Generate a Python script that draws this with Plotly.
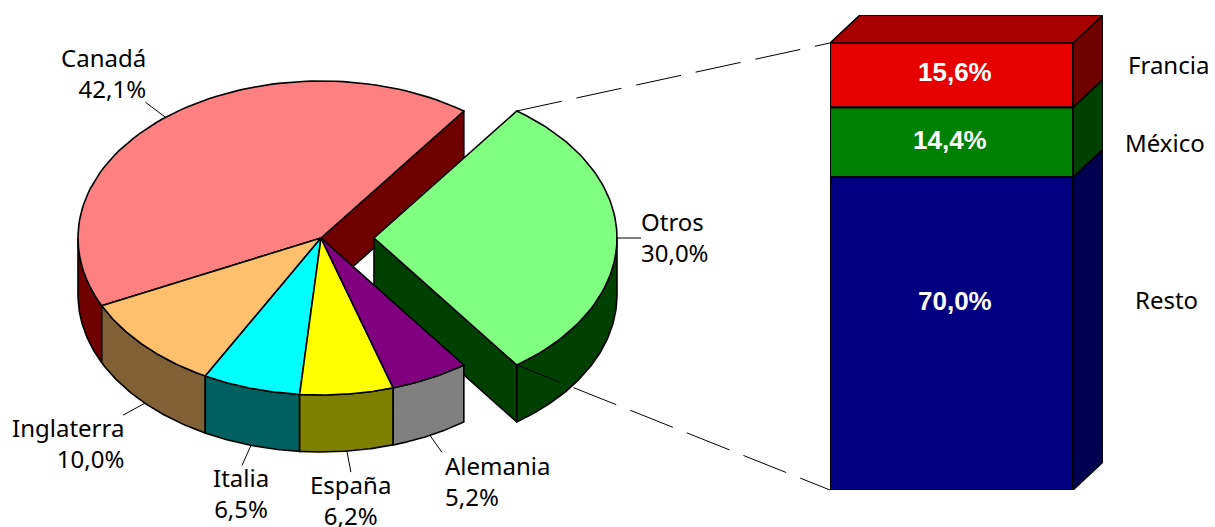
import numpy as np
import plotly.graph_objects as go

# ---- data ----
pie_names = ["Canadá", "Inglaterra", "Italia", "España", "Alemania", "Otros"]
pie_values = [42.1, 10.0, 6.5, 6.2, 5.2, 30.0]
pie_labels = ["42,1%", "10,0%", "6,5%", "6,2%", "5,2%", "30,0%"]

bar_names = ["Resto", "México", "Francia"]
bar_heights = [70.0, 15.6, 14.4]   # drawn heights
bar_labels = ["70,0%", "14,4%", "15,6%"]

# ---- styles ----
top_colors = ["#FF8080", "#FFC06E", "#00FFFF", "#FFFF00", "#800080", "#80FF80"]
side_colors = ["#700000", "#806035", "#006060", "#808000", "#808080", "#004000"]
bar_front = ["#000080", "#008000", "#E60000"]
bar_side = ["#000050", "#004000", "#700000"]
bar_top = "#A80000"
W, H = 1215, 527
LABEL_FONT = dict(family="Noto Sans", size=24, color="#000000")

# ---- projection of the tilted pie ----
CX, CY, RX, RY, DEPTH = 321, 238, 243, 157, 57
EXPLODE = [0, 0, 0, 0, 0, 53]
START = 54.0
edges = START + np.concatenate([[0], np.cumsum(pie_values)]) * 3.6


def arc(a0, a1, cx):
    t = np.radians(np.linspace(a0, a1, 80))
    return cx + RX * np.cos(t), CY - RY * np.sin(t)


def poly(x, y, color, lw=1.6, xa="x", ya="y"):
    return go.Scatter(x=np.r_[x, x[0]], y=np.r_[y, y[0]], mode="lines", fill="toself",
                      fillcolor=color, line=dict(color="#000000", width=lw),
                      hoverinfo="skip", showlegend=False, xaxis=xa, yaxis=ya)


def top_face(i):
    cx = CX + EXPLODE[i]
    ax, ay = arc(edges[i], edges[i + 1], cx)
    return poly(np.r_[cx, ax], np.r_[CY, ay], top_colors[i])


def outer_wall(i):
    cx = CX + EXPLODE[i]
    a0, a1 = max(edges[i], 180), min(edges[i + 1], 360)
    if a1 <= a0:
        return None
    ax, ay = arc(a0, a1, cx)
    return poly(np.r_[ax, ax[::-1]], np.r_[ay, ay[::-1] + DEPTH], side_colors[i])


def cut_wall(i, angle):
    cx = CX + EXPLODE[i]
    ex = cx + RX * np.cos(np.radians(angle))
    ey = CY - RY * np.sin(np.radians(angle))
    return poly(np.array([cx, ex, ex, cx]), np.array([CY, ey, ey + DEPTH, CY + DEPTH]), side_colors[i])


fig = go.Figure()
# back to front
fig.add_trace(cut_wall(0, edges[0]))
fig.add_trace(cut_wall(5, edges[5]))
fig.add_trace(outer_wall(5))
fig.add_trace(top_face(5))
for i in range(5):
    w = outer_wall(i)
    if w is not None:
        fig.add_trace(w)
for i in range(5):
    fig.add_trace(top_face(i))

# ---- leader lines from mid angle of each slice ----
leader_offset = [(-20, -15), (-22, 12), (-9, 20), (4, 21), (12, 17), (24, 0)]
mids = (edges[:-1] + edges[1:]) / 2
for i, (dx, dy) in enumerate(leader_offset):
    cx = CX + EXPLODE[i]
    x0 = cx + RX * np.cos(np.radians(mids[i]))
    y0 = CY - RY * np.sin(np.radians(mids[i]))
    if 185 < mids[i] % 360 < 355:
        y0 += DEPTH
    fig.add_trace(go.Scatter(x=[x0, x0 + dx], y=[y0, y0 + dy], mode="lines",
                             line=dict(color="#000000", width=1), hoverinfo="skip", showlegend=False))

# ---- stacked bar on its own axes ----
BL, BR, BDX, BT, BB, BDY = 830, 1073, 30, 43, 490, 28
x2max = (BR - BL + BDX) / (BR - BL)
y2max = 100 * (BB - BT + BDY) / (BB - BT)
dx2 = BDX / (BR - BL)
dy2 = BDY / (BB - BT) * 100
cum = np.concatenate([[0], np.cumsum(bar_heights)])
for k, name in enumerate(bar_names):
    fig.add_trace(go.Bar(x=[0.5], y=[bar_heights[k]], base=[cum[k]], width=[1.0], name=name,
                         marker=dict(color=bar_front[k], line=dict(color="#000000", width=2)),
                         xaxis="x2", yaxis="y2", hoverinfo="skip", showlegend=False))
    fig.add_trace(poly(np.array([1, 1 + dx2, 1 + dx2, 1]),
                       np.array([cum[k], cum[k] + dy2, cum[k + 1] + dy2, cum[k + 1]]),
                       bar_side[k], lw=1.6, xa="x2", ya="y2"))
fig.add_trace(poly(np.array([0, dx2, 1 + dx2, 1]),
                   np.array([cum[-1], cum[-1] + dy2, cum[-1] + dy2, cum[-1]]),
                   bar_top, lw=1.6, xa="x2", ya="y2"))

# ---- dashed connectors from the exploded slice to the bar ----
for a, yb in ((edges[6], 100), (edges[5], 0)):
    ex = CX + EXPLODE[5] + RX * np.cos(np.radians(a))
    ey = CY - RY * np.sin(np.radians(a))
    ybp = BB - (BB - BT) * yb / 100
    fig.add_trace(go.Scatter(x=[ex, BL], y=[ey, ybp], mode="lines",
                             line=dict(color="#000000", width=1, dash="46px,15px"),
                             hoverinfo="skip", showlegend=False))

# ---- text ----
label_pos = [(146, 73, "right"), (124, 443, "right"), (241, 493, "center"),
             (350, 500, "center"), (445, 481, "left"), (641, 237, "left")]
annots = []
for i, (x, y, anc) in enumerate(label_pos):
    annots.append(dict(x=x, y=y, xref="x", yref="y", text=f"{pie_names[i]}<br>{pie_labels[i]}",
                       xanchor=anc, yanchor="middle", align=anc,
                       showarrow=False, borderpad=0, borderwidth=0, font=LABEL_FONT))
bar_name_pos = [(1168, 64), (1165, 142), (1166, 299)]
for name, (x, y) in zip(bar_names[::-1], bar_name_pos):
    annots.append(dict(x=x, y=y, xref="x", yref="y", text=name, xanchor="center", yanchor="middle",
                       showarrow=False, font=LABEL_FONT))
bar_label_pos = [(955, 301), (950, 140), (955, 72)]
for txt, (x, y) in zip(bar_labels, bar_label_pos):
    annots.append(dict(x=x, y=y, xref="x", yref="y", text=f"<b>{txt}</b>", xanchor="center", yanchor="middle",
                       showarrow=False,
                       font=dict(family="Liberation Sans", size=26, color="#FFFFFF")))

hidden = dict(visible=False, showgrid=False, zeroline=False, fixedrange=True)
fig.update_layout(
    width=W, height=H, margin=dict(l=0, r=0, t=0, b=0, pad=0), autosize=False,
    paper_bgcolor="#FFFFFF", plot_bgcolor="#FFFFFF", barmode="overlay",
    xaxis=dict(range=[0, W], domain=[0, 1], **hidden),
    yaxis=dict(range=[H, 0], domain=[0, 1], **hidden),
    xaxis2=dict(range=[0, x2max], domain=[BL / W, (BR + BDX) / W], anchor="y2", **hidden),
    yaxis2=dict(range=[0, y2max], domain=[(H - BB) / H, (H - BT + BDY) / H], anchor="x2", **hidden),
    annotations=annots,
)
fig.write_html("out.html", config=dict(displayModeBar=False),
               post_script="document.body.style.margin='0';document.documentElement.style.overflow='hidden';")
